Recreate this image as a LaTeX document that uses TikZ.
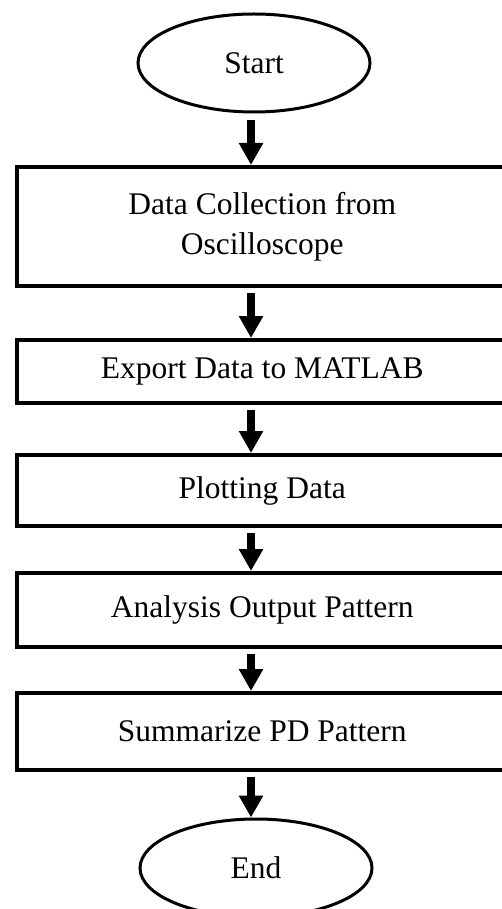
\documentclass[tikz,border=0pt]{standalone}
\usepackage{fontspec}
\setmainfont{Liberation Serif}
\usetikzlibrary{shapes.geometric,arrows.meta,calc}
\begin{document}
\begin{tikzpicture}[x=1pt,y=-1pt,
  every node/.style={font=\fontsize{31.5}{40}\selectfont, text=black},
  term/.style={ellipse, draw=black, line width=3pt, minimum width=232pt, minimum height=98pt, inner sep=0pt},
  stepbox/.style={rectangle, draw=black, line width=4pt, minimum width=491.5pt, inner sep=0pt, align=center},
  flow/.style={line width=8pt, -{Triangle[width=23pt,length=22pt]}}]
\fill[white] (0,0) rectangle (501,909);
\useasboundingbox (0,0) rectangle (501,909);
\coordinate (ax) at (251,0);
\node[term] (start) at (254,63) {Start};
\node[stepbox, minimum height=119pt] (b1) at (262.25,226.5) {Data Collection from\\Oscilloscope};
\node[stepbox, minimum height=63pt] (b2) at (262.25,371.5) {Export Data to MATLAB};
\node[stepbox, minimum height=71pt] (b3) at (262.25,490.5) {Plotting Data};
\node[stepbox, minimum height=74pt] (b4) at (262.25,610) {Analysis Output Pattern};
\node[stepbox, minimum height=77pt] (b5) at (262.25,731.5) {Summarize PD Pattern};
\node[term] (end) at (256,868) {End};
\draw[flow] ($(start.south -| ax)+(0,7)$) -- (b1.north -| ax);
\draw[flow] ($(b1.south -| ax)+(0,5)$) -- (b2.north -| ax);
\draw[flow] ($(b2.south -| ax)+(0,5)$) -- (b3.north -| ax);
\draw[flow] ($(b3.south -| ax)+(0,5)$) -- (b4.north -| ax);
\draw[flow] ($(b4.south -| ax)+(0,5)$) -- (b5.north -| ax);
\draw[flow] ($(b5.south -| ax)+(0,5)$) -- (end.north -| ax);
\end{tikzpicture}
\end{document}
